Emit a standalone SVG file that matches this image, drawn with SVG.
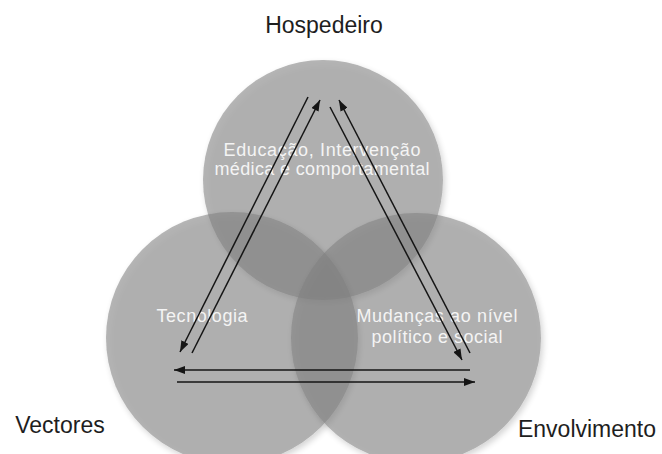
<svg xmlns="http://www.w3.org/2000/svg" width="662" height="454" viewBox="0 0 662 454">
  <style>
    .circ { fill: #808080; fill-opacity: 0.58; }
    .lbl { font-family: "Liberation Sans", Arial, sans-serif; font-size: 23px; fill: #1e1e1e; text-anchor: middle; }
    .inner { font-family: "Liberation Sans", Arial, sans-serif; font-size: 18px; fill: #f4f4f4; text-anchor: middle; }
    .conn { stroke: #151515; stroke-width: 1.5; fill: none; marker-end: url(#ah); }
  </style>
  <defs>
    <marker id="ah" markerUnits="userSpaceOnUse" markerWidth="12" markerHeight="8" refX="11" refY="4" orient="auto">
      <path d="M0,0 L11,4 L0,8 z" fill="#151515"/>
    </marker>
    <filter id="sh" x="-10%" y="-10%" width="125%" height="125%">
      <feGaussianBlur in="SourceAlpha" stdDeviation="3"/>
      <feOffset dx="2" dy="3" result="b"/>
      <feComposite in="b" in2="SourceAlpha" operator="out" result="o"/>
      <feComponentTransfer in="o" result="s"><feFuncA type="linear" slope="0.3"/></feComponentTransfer>
      <feMerge><feMergeNode in="s"/><feMergeNode in="SourceGraphic"/></feMerge>
    </filter>
  </defs>
  <rect width="662" height="454" fill="#ffffff"/>

  <g id="hospedeiro">
    <circle class="circ" cx="323" cy="180" r="120" filter="url(#sh)"/>
    <text class="lbl" x="324" y="33">Hospedeiro</text>
    <text class="inner" x="322" y="156" textLength="197" lengthAdjust="spacing">Educação, Intervenção</text>
    <text class="inner" x="322" y="175" textLength="215" lengthAdjust="spacing">médica e comportamental</text>
  </g>
  <g id="vectores">
    <circle class="circ" cx="232" cy="338" r="126" filter="url(#sh)"/>
    <text class="lbl" x="60" y="433">Vectores</text>
    <text class="inner" x="202" y="322" textLength="91" lengthAdjust="spacing">Tecnologia</text>
  </g>
  <g id="envolvimento">
    <circle class="circ" cx="416" cy="338" r="125" filter="url(#sh)"/>
    <text class="lbl" x="587" y="437">Envolvimento</text>
    <text class="inner" x="437" y="322" textLength="161" lengthAdjust="spacing">Mudanças ao nível</text>
    <text class="inner" x="437" y="343" textLength="131" lengthAdjust="spacing">político e social</text>
  </g>

  <g id="connectors">
    <line class="conn" x1="308" y1="97" x2="180" y2="352"/>
    <line class="conn" x1="192" y1="353" x2="320" y2="100"/>
    <line class="conn" x1="330" y1="107" x2="462" y2="360"/>
    <line class="conn" x1="470" y1="353" x2="339" y2="100"/>
    <line class="conn" x1="470" y1="370" x2="174" y2="370"/>
    <line class="conn" x1="177" y1="382" x2="475" y2="382"/>
  </g>
</svg>
